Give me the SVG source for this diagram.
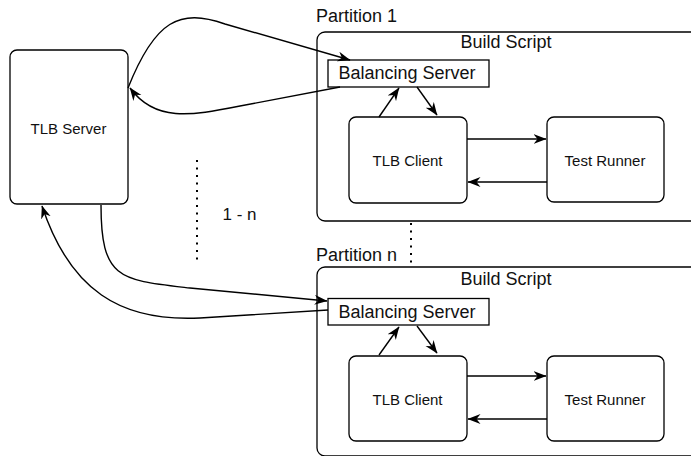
<svg xmlns="http://www.w3.org/2000/svg" width="691" height="456" viewBox="0 0 691 456">
<style>
.box{fill:#fff;stroke:#000;stroke-width:1.3}
.lbl{font-family:"Liberation Sans",Arial,sans-serif;fill:#111}
.big{font-size:18px}
.small{font-size:15px}
.edge{fill:none;stroke:#000;stroke-width:1.4}
.dot{fill:none;stroke:#000;stroke-width:2;stroke-dasharray:2 5.5}
</style>
<defs>
<marker id="arr" markerUnits="userSpaceOnUse" markerWidth="14" markerHeight="11" refX="12.5" refY="5" orient="auto">
<path d="M0,0 L13,5 L0,10 L4,5 z" fill="#000"/>
</marker>
</defs>
<rect width="691" height="456" fill="#fff"/>

<g id="tlb-server">
<rect class="box" x="10" y="50" width="118" height="154" rx="7"/>
<text class="lbl small" x="68.5" y="134" text-anchor="middle">TLB Server</text>
</g>

<g id="partition-1">
<text class="lbl big" x="316" y="22">Partition 1</text>
<rect class="box" x="317" y="32" width="400" height="189" rx="8"/>
<text class="lbl big" x="506" y="48" text-anchor="middle">Build Script</text>
</g>
<g id="balancing-server-1">
<rect class="box" x="328" y="60" width="161" height="27"/>
<text class="lbl big" x="407" y="79" text-anchor="middle">Balancing Server</text>
</g>
<g id="tlb-client-1">
<rect class="box" x="349" y="117" width="118" height="86" rx="7"/>
<text class="lbl small" x="407.5" y="166" text-anchor="middle">TLB Client</text>
</g>
<g id="test-runner-1">
<rect class="box" x="547" y="117" width="117" height="85" rx="7"/>
<text class="lbl small" x="605" y="166" text-anchor="middle">Test Runner</text>
</g>

<g id="partition-n">
<text class="lbl big" x="316" y="260.5">Partition n</text>
<rect class="box" x="317" y="267" width="400" height="189" rx="8"/>
<text class="lbl big" x="506" y="285" text-anchor="middle">Build Script</text>
</g>
<g id="balancing-server-n">
<rect class="box" x="328" y="298.5" width="161" height="26.5"/>
<text class="lbl big" x="407" y="317.5" text-anchor="middle">Balancing Server</text>
</g>
<g id="tlb-client-n">
<rect class="box" x="349" y="356" width="118" height="85" rx="7"/>
<text class="lbl small" x="407.5" y="405" text-anchor="middle">TLB Client</text>
</g>
<g id="test-runner-n">
<rect class="box" x="547" y="356" width="117" height="85" rx="7"/>
<text class="lbl small" x="605" y="405" text-anchor="middle">Test Runner</text>
</g>

<g id="range-label">
<text class="lbl" style="font-size:17px" x="222.5" y="220">1 - n</text>
</g>

<g id="connectors">
<path class="dot" d="M197,160 V265"/>
<path class="dot" d="M411,223 V264"/>
<path class="edge" marker-end="url(#arr)" d="M128,88 C155,20 180,8 225,24 L350,60"/>
<path class="edge" marker-end="url(#arr)" d="M340,87 L240,106 C190,116 155,122 130,88"/>
<path class="edge" marker-end="url(#arr)" d="M101,205 C101,280 120,280 190,288 L327,301"/>
<path class="edge" marker-end="url(#arr)" d="M328,310 L200,318 C120,322 70,290 42,206"/>
<path class="edge" marker-end="url(#arr)" d="M379,117 L399,88"/>
<path class="edge" marker-end="url(#arr)" d="M417,87 L437,115"/>
<path class="edge" marker-end="url(#arr)" d="M467,139 H546"/>
<path class="edge" marker-end="url(#arr)" d="M547,182 H468"/>
<path class="edge" marker-end="url(#arr)" d="M379,355 L399,327"/>
<path class="edge" marker-end="url(#arr)" d="M417,326 L437,353"/>
<path class="edge" marker-end="url(#arr)" d="M467,376 H546"/>
<path class="edge" marker-end="url(#arr)" d="M547,419 H468"/>
</g>
</svg>
